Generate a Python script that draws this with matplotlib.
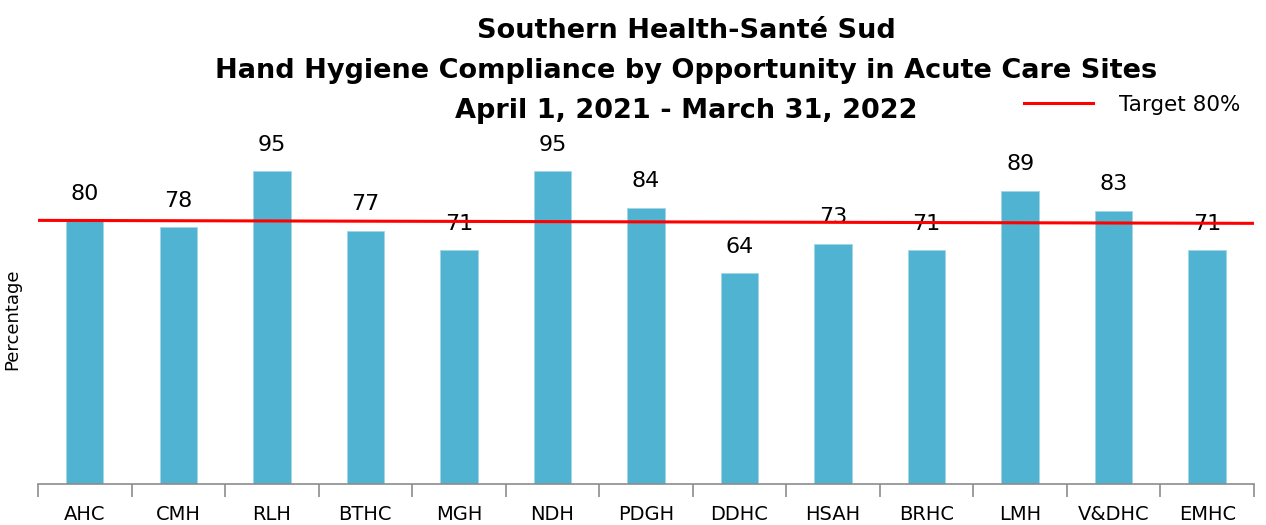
import numpy as np
import matplotlib
matplotlib.use("Agg")
import matplotlib.pyplot as plt

# Data
sites = ["AHC", "CMH", "RLH", "BTHC", "MGH", "NDH", "PDGH",
         "DDHC", "HSAH", "BRHC", "LMH", "V&DHC", "EMHC"]
compliance = [80, 78, 95, 77, 71, 95, 84, 64, 73, 71, 89, 83, 71]
target_ends = [80.1, 79.2]  # red target line, slightly tilted as in original

title_lines = ["Southern Health-Santé Sud",
               "Hand Hygiene Compliance by Opportunity in Acute Care Sites",
               "April 1, 2021 - March 31, 2022"]

bar_color = "#4FB3D1"

fig = plt.figure(figsize=(12.66, 5.25), dpi=100)
ax = fig.add_axes([0.030, 0.078, 0.9605, 0.627])

x = np.arange(len(sites))
ax.bar(x, compliance, width=0.4, color=bar_color, edgecolor="#9fd6e6", linewidth=0.6, zorder=2)

for xi, v in zip(x, compliance):
    ax.annotate(str(v), (xi, v), xytext=(0, 12), textcoords="offset points",
                ha="center", va="bottom", fontsize=16, color="black", clip_on=False)

ax.set_xlim(-0.5, len(sites) - 0.5)
ax.set_ylim(0, 100)
target_line, = ax.plot([-0.5, len(sites) - 0.5], target_ends, color="#FF0000",
                       linewidth=2.2, zorder=3, label="Target 80%")

# axis styling
for s in ["top", "right", "left"]:
    ax.spines[s].set_visible(False)
ax.spines["bottom"].set_color("#8c8c8c")
ax.spines["bottom"].set_linewidth(1.2)
ax.set_yticks([])
ax.set_xticks(x)
ax.set_xticklabels(sites, fontsize=14)
ax.tick_params(axis="x", which="major", length=0, pad=15)
ax.set_xticks(np.arange(-0.5, len(sites)), minor=True)
ax.tick_params(axis="x", which="minor", length=9, width=1.2, color="#8c8c8c", direction="out")
ax.set_ylabel("Percentage", fontsize=13, labelpad=12)

# title
ys = [0.94, 0.865, 0.788]
for t, yy in zip(title_lines, ys):
    fig.text(0.542, yy, t, ha="center", va="center", fontsize=19.5, fontweight="bold")

fig.legend(handles=[target_line], loc="center right", bbox_to_anchor=(0.995, 0.8),
           frameon=False, fontsize=15.5, handlelength=3.2, handletextpad=1.2)

fig.savefig("out.png", dpi=100)
